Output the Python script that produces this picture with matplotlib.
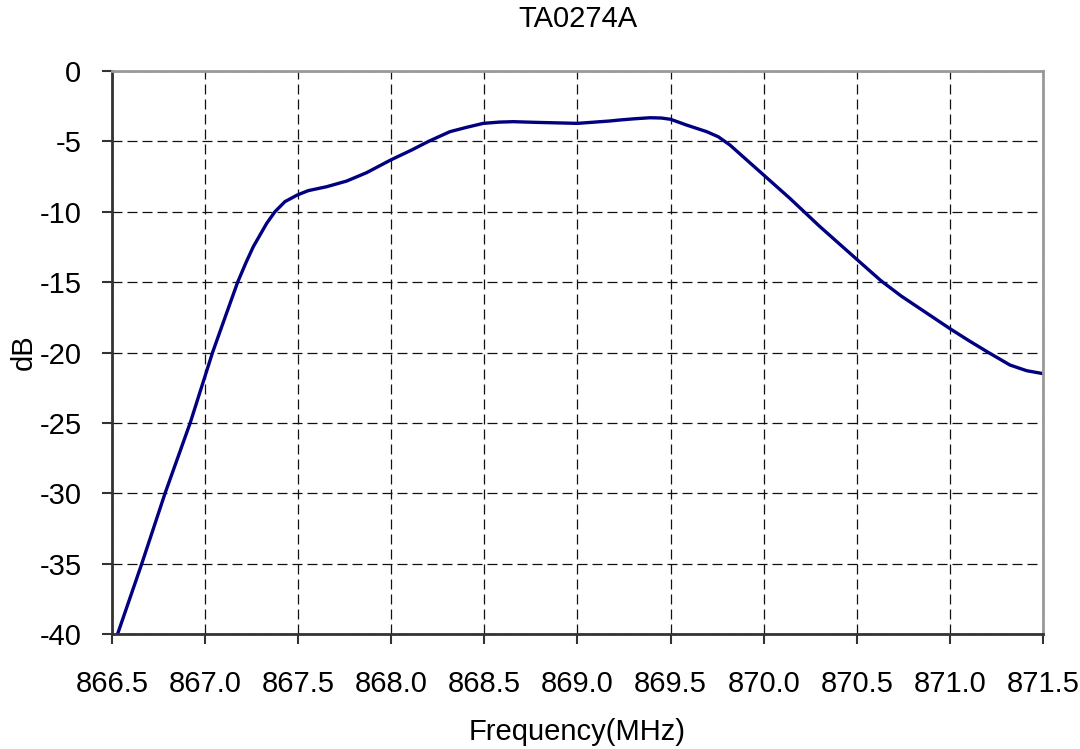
import matplotlib
matplotlib.use('Agg')
import matplotlib.pyplot as plt
import numpy as np

plt.rcParams['font.family'] = ['Liberation Sans', 'DejaVu Sans']

freq = [866.53, 866.66, 866.785, 866.92, 867.04, 867.11, 867.175, 867.22, 867.259,
        867.331, 867.375, 867.429, 867.495, 867.554, 867.653, 867.76, 867.868,
        867.997, 868.11, 868.2, 868.315, 868.405, 868.494, 868.58, 868.655,
        868.78, 869.0, 869.175, 869.228, 869.3, 869.39, 869.45, 869.5,
        869.586, 869.694, 869.756, 869.819, 869.909, 870.0, 870.141,
        870.3, 870.5, 870.63, 870.74, 870.87, 871.0, 871.1, 871.206, 871.323,
        871.412, 871.5]
db = [-40, -35, -30, -25, -20, -17.4, -15.0, -13.6, -12.48,
      -10.82, -10.0, -9.28, -8.81, -8.5, -8.22, -7.82, -7.22,
      -6.32, -5.61, -5.0, -4.31, -4.0, -3.72, -3.63, -3.6,
      -3.65, -3.72, -3.55, -3.48, -3.4, -3.32, -3.34, -3.43,
      -3.84, -4.31, -4.67, -5.26, -6.32, -7.39, -9.05,
      -11.03, -13.38, -14.9, -16.0, -17.15, -18.3, -19.14, -19.99, -20.89,
      -21.29, -21.5]

xticks = [866.5, 867.0, 867.5, 868.0, 868.5, 869.0, 869.5, 870.0, 870.5, 871.0, 871.5]
yticks = [0, -5, -10, -15, -20, -25, -30, -35, -40]

fig = plt.figure(figsize=(10.8, 7.49), dpi=100)
ax = fig.add_axes([0.1037, 0.1535, 0.862, 0.7517])

ax.plot(freq, db, color='#000080', lw=2.4, solid_joinstyle='round')

ax.set_xlim(866.5, 871.5)
ax.set_ylim(-40, 0)
ax.set_xticks(xticks)
ax.set_xticklabels([f'{t:.1f}' for t in xticks])
ax.set_yticks(yticks)
ax.set_yticklabels([str(t) for t in yticks])

ax.grid(True, color='#111111', ls=(0, (8, 4)), lw=0.9)
ax.set_axisbelow(True)

for side in ['left', 'bottom']:
    ax.spines[side].set_color('#333333')
    ax.spines[side].set_linewidth(2)
for side in ['top', 'right']:
    ax.spines[side].set_color('#999999')
    ax.spines[side].set_linewidth(2)

ax.tick_params(axis='x', direction='out', length=7, width=1.5, color='#333333',
               labelsize=21, pad=19)
ax.tick_params(axis='y', direction='out', length=7, width=1.5, color='#333333',
               labelsize=21, pad=15)

ax.set_title('TA0274A', fontsize=21, pad=32)
ax.set_xlabel('Frequency(MHz)', fontsize=21, labelpad=14)
ax.set_ylabel('dB', fontsize=21, labelpad=0)
ax.yaxis.set_label_coords(-0.080, 0.5)

fig.savefig('out.png', dpi=100)
